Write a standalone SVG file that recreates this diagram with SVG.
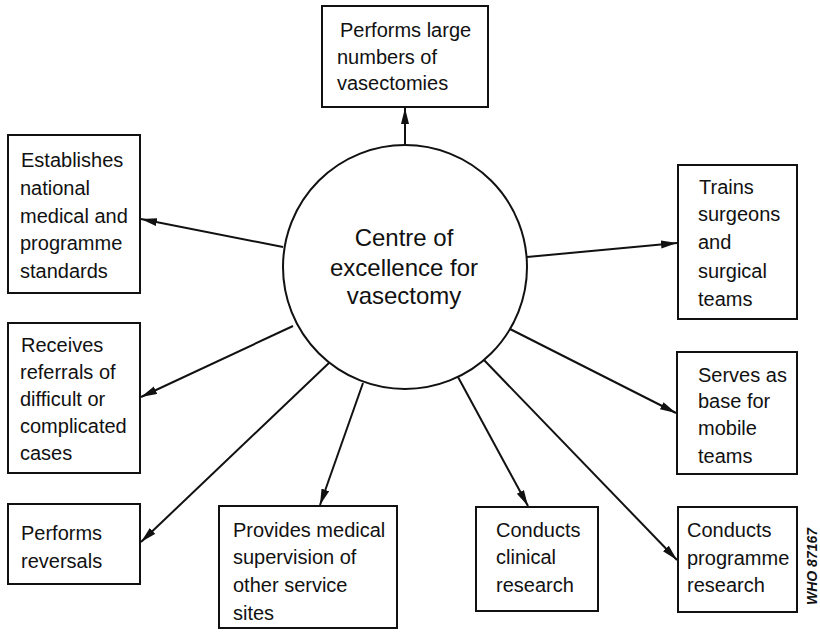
<svg xmlns="http://www.w3.org/2000/svg" width="820" height="632" viewBox="0 0 820 632">
<style>
.box{fill:#fff;stroke:#111;stroke-width:2}
.t{font-family:"Liberation Sans",Arial,sans-serif;font-size:20px;fill:#111}
.c{font-family:"Liberation Sans",Arial,sans-serif;font-size:24px;fill:#111;text-anchor:middle}
.ln{stroke:#111;stroke-width:2;fill:none;marker-end:url(#ah)}
.who{font-family:"Liberation Sans",Arial,sans-serif;font-size:14px;font-weight:bold;font-style:italic;fill:#111}
</style>
<defs>
<marker id="ah" markerUnits="userSpaceOnUse" markerWidth="18" markerHeight="10" refX="16" refY="4" orient="auto">
<path d="M0,0 L16,4 L0,8 z" fill="#111"/>
</marker>
</defs>
<rect width="820" height="632" fill="#fff"/>
<g id="connectors">
<line class="ln" x1="405" y1="145" x2="405" y2="108"/>
<line class="ln" x1="283" y1="247" x2="141" y2="219"/>
<line class="ln" x1="293" y1="326" x2="141" y2="397"/>
<line class="ln" x1="330" y1="362" x2="141" y2="542"/>
<line class="ln" x1="363" y1="383" x2="320" y2="505"/>
<line class="ln" x1="458" y1="377" x2="528" y2="506"/>
<line class="ln" x1="484" y1="360" x2="677" y2="560"/>
<line class="ln" x1="510" y1="329" x2="676" y2="413"/>
<line class="ln" x1="527" y1="257" x2="677" y2="243"/>
</g>
<g id="centre">
<circle cx="405" cy="267" r="122" fill="#fff" stroke="#111" stroke-width="2"/>
<text class="c" x="404" y="246">Centre of</text>
<text class="c" x="404" y="276">excellence for</text>
<text class="c" x="404" y="304">vasectomy</text>
</g>
<g id="n-top">
<rect class="box" x="322" y="6" width="166" height="101"/>
<text class="t" x="340" y="37">Performs large</text>
<text class="t" x="337" y="64">numbers of</text>
<text class="t" x="337" y="90">vasectomies</text>
</g>
<g id="n-standards">
<rect class="box" x="8" y="135" width="132" height="158"/>
<text class="t" x="21" y="167">Establishes</text>
<text class="t" x="20" y="195">national</text>
<text class="t" x="20" y="223">medical and</text>
<text class="t" x="20" y="250">programme</text>
<text class="t" x="20" y="278">standards</text>
</g>
<g id="n-referrals">
<rect class="box" x="8" y="323" width="132" height="150"/>
<text class="t" x="21" y="352">Receives</text>
<text class="t" x="20" y="379">referrals of</text>
<text class="t" x="20" y="406">difficult or</text>
<text class="t" x="20" y="433">complicated</text>
<text class="t" x="20" y="460">cases</text>
</g>
<g id="n-reversals">
<rect class="box" x="8" y="504" width="132" height="80"/>
<text class="t" x="21" y="540">Performs</text>
<text class="t" x="21" y="568">reversals</text>
</g>
<g id="n-supervision">
<rect class="box" x="219" y="506" width="178" height="122"/>
<text class="t" x="233" y="537">Provides medical</text>
<text class="t" x="233" y="564">supervision of</text>
<text class="t" x="233" y="592">other service</text>
<text class="t" x="233" y="620">sites</text>
</g>
<g id="n-clinical">
<rect class="box" x="476" y="507" width="122" height="104"/>
<text class="t" x="496" y="537">Conducts</text>
<text class="t" x="496" y="564">clinical</text>
<text class="t" x="496" y="592">research</text>
</g>
<g id="n-programme">
<rect class="box" x="678" y="507" width="119" height="105"/>
<text class="t" x="687" y="537">Conducts</text>
<text class="t" x="687" y="565">programme</text>
<text class="t" x="687" y="592">research</text>
</g>
<g id="n-mobile">
<rect class="box" x="677" y="352" width="120" height="122"/>
<text class="t" x="698" y="382">Serves as</text>
<text class="t" x="698" y="408">base for</text>
<text class="t" x="698" y="435">mobile</text>
<text class="t" x="698" y="463">teams</text>
</g>
<g id="n-trains">
<rect class="box" x="678" y="165" width="119" height="154"/>
<text class="t" x="699" y="194">Trains</text>
<text class="t" x="698" y="221">surgeons</text>
<text class="t" x="698" y="249">and</text>
<text class="t" x="698" y="278">surgical</text>
<text class="t" x="698" y="306">teams</text>
</g>
<text class="who" transform="translate(817,605) rotate(-90)">WHO 87167</text>
</svg>
